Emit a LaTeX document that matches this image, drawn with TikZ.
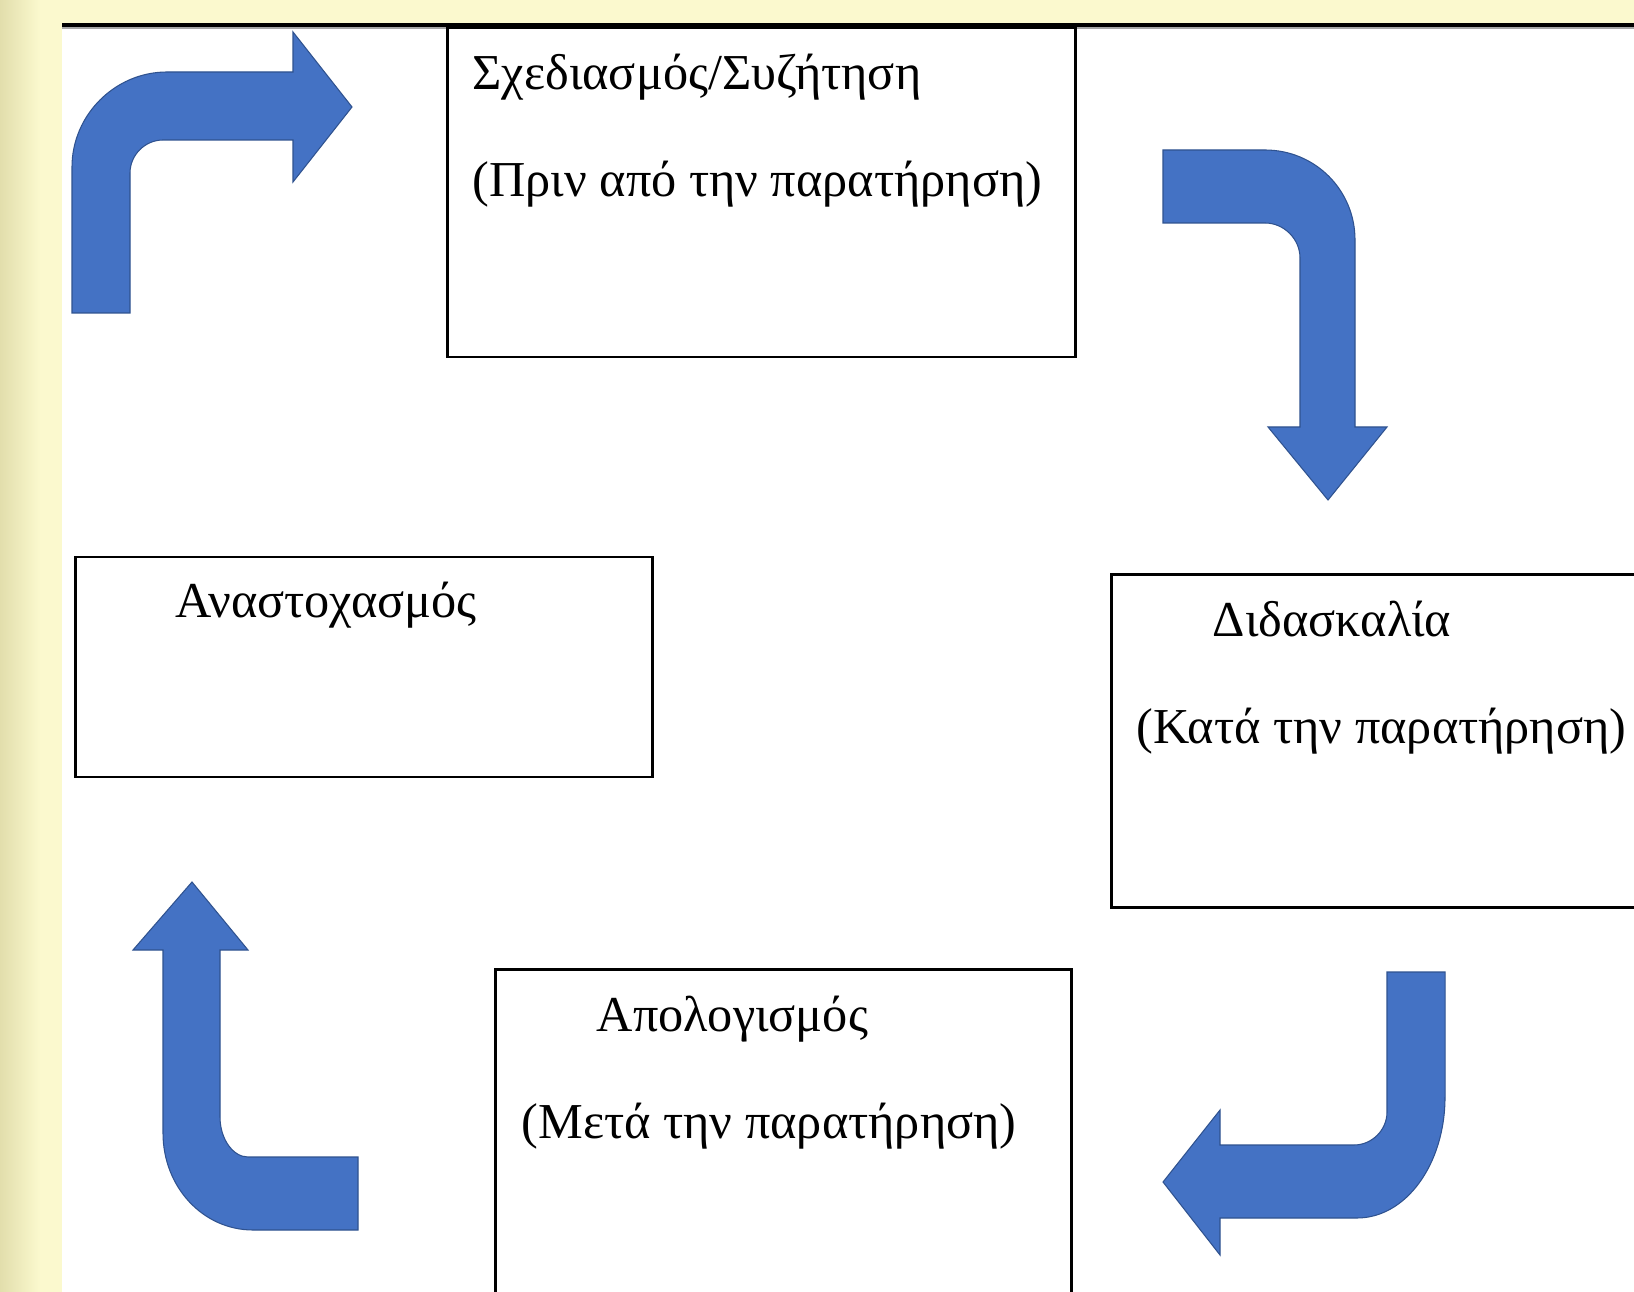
\documentclass[tikz,border=0pt]{standalone}
\usepackage{fontspec}
\setmainfont{Liberation Serif}
\usepackage{tikz}

\definecolor{slideyellow}{RGB}{251,249,206}
\definecolor{edgeyellow}{RGB}{226,222,172}
\definecolor{arrowblue}{RGB}{68,114,196}
\definecolor{arrowedge}{RGB}{47,82,143}

\begin{document}
\begin{tikzpicture}[x=0.01cm, y=-0.01cm,
	box/.style={draw, line width=0.8pt, inner sep=0pt},
	txt/.style={anchor=base west, inner sep=0pt, font=\fontsize{14.3pt}{17pt}\selectfont},
	bluearrow/.style={fill=arrowblue, draw=arrowedge, line width=0.3pt}]
	\clip (0,0) rectangle (1634,1292);
	% slide background
	\fill[slideyellow] (0,0) rectangle (1634,1292);
	\shade[left color=edgeyellow, right color=slideyellow] (0,0) rectangle (40,1292);
	\fill[white] (62,27) rectangle (1634,1292);
	\fill[black] (62,23) rectangle (1634,27);
	\fill[black!35] (62,27) rectangle (1634,29);

	\node (plan) at (761.5,192.5) [box, minimum width=6.27cm, minimum height=3.29cm] {};
	\node (teach) at (1406,741) [box, minimum width=5.88cm, minimum height=3.32cm] {};
	\node (review) at (783.5,1160) [box, minimum width=5.75cm, minimum height=3.8cm] {};
	\node (reflect) at (364,667) [box, minimum width=5.76cm, minimum height=2.2cm] {};

	\node (plan1) at (472,90) [txt] {Σχεδιασμός/Συζήτηση};
	\node (plan2) at (472,197) [txt] {(Πριν από την παρατήρηση)};
	\node (teach1) at (1212,637) [txt] {Διδασκαλία};
	\node (teach2) at (1136,744) [txt] {(Κατά την παρατήρηση)};
	\node (review1) at (596,1031) [txt] {Απολογισμός};
	\node (review2) at (521,1138) [txt] {(Μετά την παρατήρηση)};
	\node (reflect1) at (175,618) [txt] {Αναστοχασμός};

	% bent block arrows
	\draw[bluearrow] (72,313) -- (72,167) .. controls (72,115) and (115,72) .. (167,72) -- (293,72)
		-- (293,32) -- (352,107) -- (293,182) -- (293,140) -- (163,140)
		.. controls (145,140) and (130,155) .. (130,173) -- (130,313) -- cycle;
	\draw[bluearrow] (1163,150) -- (1265,150) .. controls (1315,150) and (1355,190) .. (1355,240)
		-- (1355,427) -- (1387,427) -- (1328,500) -- (1268,427) -- (1300,427) -- (1300,258)
		.. controls (1300,239) and (1284,223) .. (1265,223) -- (1163,223) -- cycle;
	\draw[bluearrow] (1387,972) -- (1445,972) -- (1445,1097) .. controls (1445,1164) and (1406,1218) .. (1357,1218)
		-- (1220,1218) -- (1220,1255) -- (1163,1182) -- (1220,1110) -- (1220,1145) -- (1354,1145)
		.. controls (1372,1145) and (1387,1130) .. (1387,1112) -- cycle;
	\draw[bluearrow] (192,882) -- (248,950) -- (220,950) -- (220,1117)
		.. controls (220,1139) and (233,1157) .. (248,1157) -- (358,1157) -- (358,1230) -- (253,1230)
		.. controls (203,1230) and (163,1187) .. (163,1133) -- (163,950) -- (133,950) -- cycle;
\end{tikzpicture}
\end{document}
